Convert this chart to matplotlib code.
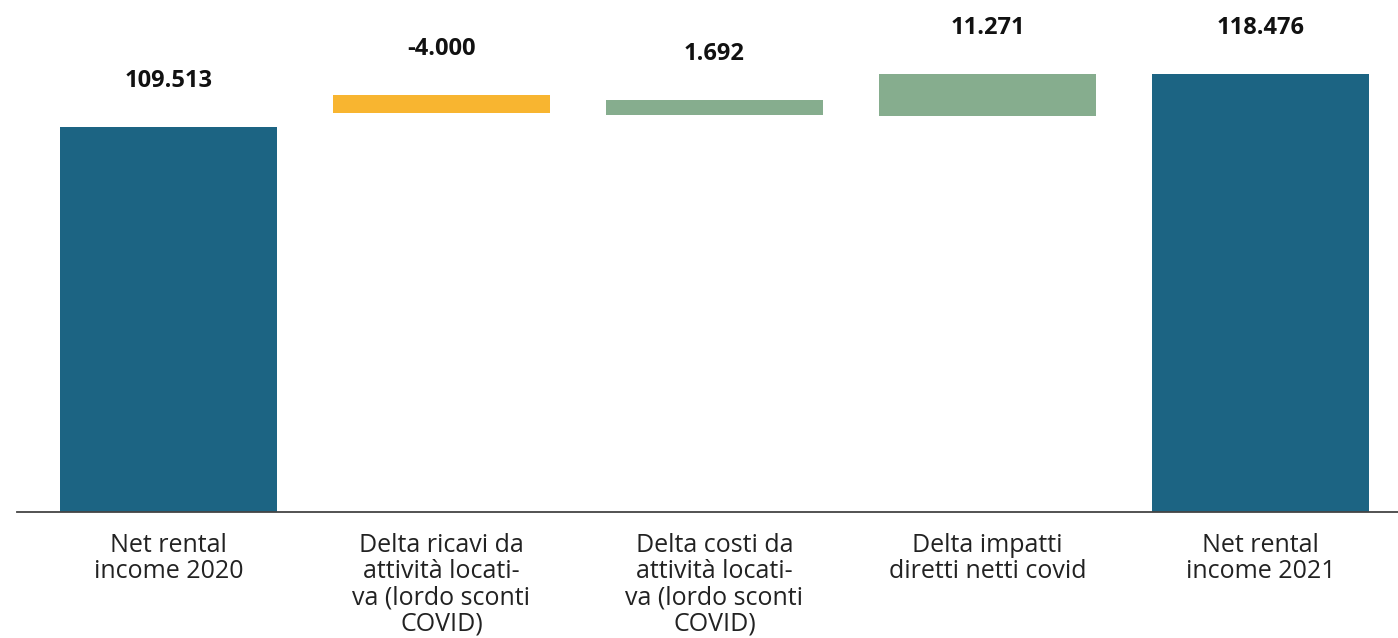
import matplotlib
matplotlib.use('Agg')
import matplotlib.pyplot as plt

# waterfall steps (values in thousands, bar extents)
categories = ['Net rental\nincome 2020',
              'Delta ricavi da\nattività locati-\nva (lordo sconti\nCOVID)',
              'Delta costi da\nattività locati-\nva (lordo sconti\nCOVID)',
              'Delta impatti\ndiretti netti covid',
              'Net rental\nincome 2021']
value_labels = ['109.513', '-4.000', '1.692', '11.271', '118.476']
bar_bottom = [0, 113.5, 112.9, 112.6, 0]
bar_top = [109.513, 118.6, 117.2, 124.6, 124.6]
bar_colors = ['#1c6483', '#f8b530', '#86ad8e', '#86ad8e', '#1c6483']


def main():
    dpi = 100
    fig = plt.figure(figsize=(1398 / dpi, 638 / dpi), dpi=dpi)
    ax = fig.add_axes([17 / 1398, 126 / 638, 1 - 17 / 1398, 512 / 638])

    x = list(range(len(categories)))
    heights = [t - b for t, b in zip(bar_top, bar_bottom)]
    ax.bar(x, heights, bottom=bar_bottom, width=0.795, color=bar_colors,
           linewidth=0)

    for xi, top, lab in zip(x, bar_top, value_labels):
        ax.annotate(lab, (xi, top), xytext=(0, 33), textcoords='offset points',
                    ha='center', va='center', fontsize=17,
                    fontweight='bold', family='Open Sans', color='#111111')

    ax.set_xlim(-0.555, 4.504)
    ax.set_ylim(0, 145.6)
    ax.set_xticks(x)
    ax.set_xticklabels(categories, fontsize=18, family='Open Sans',
                       color='#222222', linespacing=1.07)
    ax.tick_params(axis='x', length=0, pad=15)
    ax.set_yticks([])
    for side in ['top', 'left', 'right']:
        ax.spines[side].set_visible(False)
    ax.spines['bottom'].set_color('#444444')
    ax.spines['bottom'].set_linewidth(1.3)

    fig.savefig('out.png', dpi=dpi)
    plt.close(fig)


if __name__ == '__main__':
    main()
